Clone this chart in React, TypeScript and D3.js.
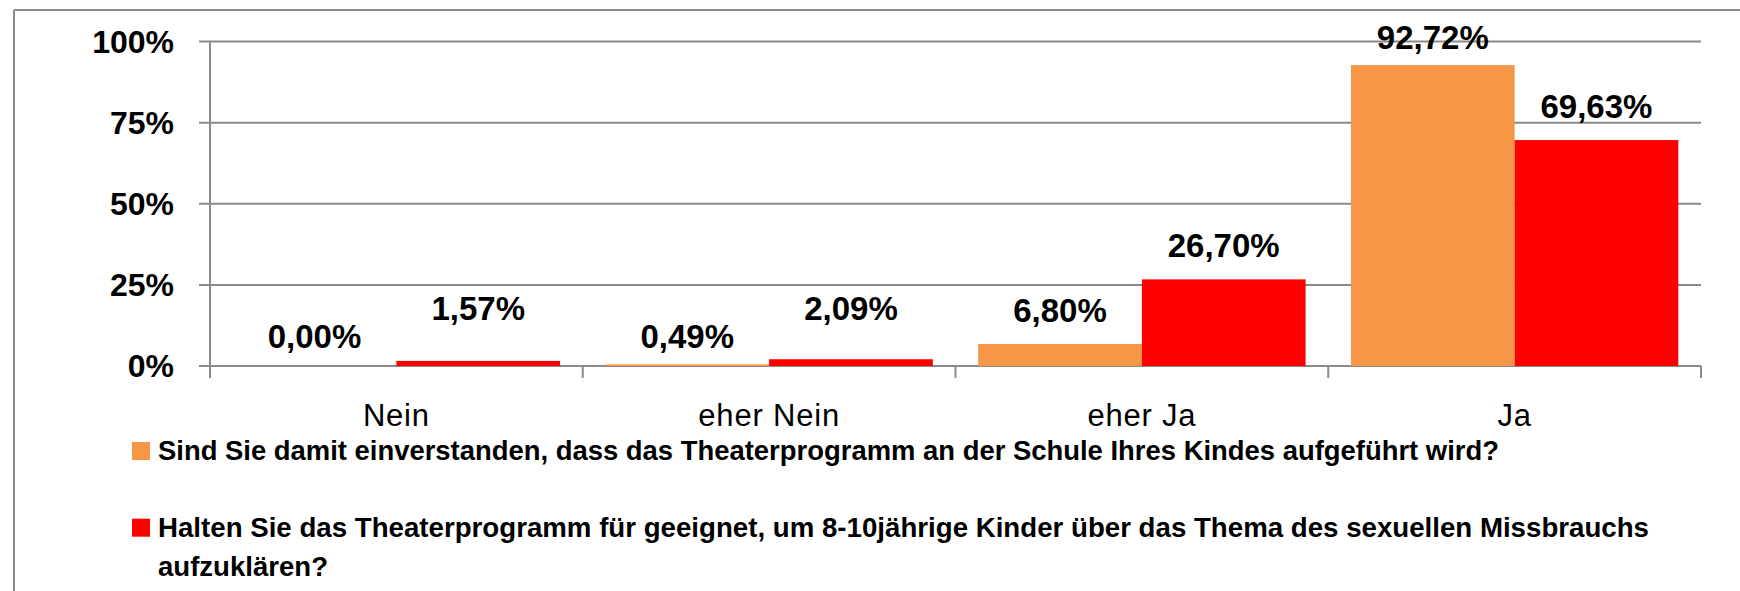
import React from 'react';
import * as d3 from 'd3';

// chart data
const categories = ['Nein', 'eher Nein', 'eher Ja', 'Ja'];
const seriesKeys = ['agree', 'suitable'];
const seriesLabels = [
  ['Sind Sie damit einverstanden, dass das Theaterprogramm an der Schule Ihres Kindes aufgeführt wird?'],
  ['Halten Sie das Theaterprogramm für geeignet, um 8-10jährige Kinder über das Thema des sexuellen Missbrauchs', 'aufzuklären?'],
];
const agreeValues = [0.0, 0.49, 6.8, 92.72];
const suitableValues = [1.57, 2.09, 26.7, 69.63];
const yTicks = [0, 25, 50, 75, 100];

const colors = ['#F79646', '#FF0000'];
const gridColor = '#8a8a8a';
const fontFamily = '"Liberation Sans", Arial, sans-serif';

const W = 1740;
const H = 591;
const plot = { left: 210, right: 1701, top: 41.5, bottom: 366 };

const fmt = (v: number) => v.toFixed(2).replace('.', ',') + '%';

export default function App() {
  const x0 = d3.scaleBand<string>().domain(categories).range([plot.left, plot.right]).padding(0);
  const x1 = d3.scaleBand<string>().domain(seriesKeys).range([0, x0.bandwidth()]).paddingInner(0).paddingOuter(0.1385);
  const y = d3.scaleLinear().domain([0, 100]).range([plot.bottom, plot.top]);

  const values = [agreeValues, suitableValues];

  // Excel-ish label placement: above the bar, kept inside the plot
  const labelY = (v: number, s: number) => {
    if (v < 3) return s === 0 ? y(0) - 18 : y(0) - 46;
    return Math.max(y(v) - 22, plot.top + 7.5);
  };

  const boundaries = categories.map(c => x0(c) as number).concat([plot.right]);

  // legend layout
  const legendLines = [
    { s: 0, lines: seriesLabels[0], y: 460, widths: [1341] },
    { s: 1, lines: seriesLabels[1], y: 536.7, widths: [1491, 170] },
  ];

  return (
    <svg width={W} height={H} style={{ position: 'absolute', left: 0, top: 0, background: '#fff' }} fontFamily={fontFamily}>
      {/* outer frame, cut off at right and bottom */}
      <line x1={14} x2={W} y1={10} y2={10} stroke={gridColor} strokeWidth={2} />
      <line x1={14} x2={14} y1={10} y2={H} stroke={gridColor} strokeWidth={2} />

      {/* gridlines + y labels */}
      {yTicks.map(t => (
        <g key={t}>
          <line x1={plot.left - 11} x2={plot.right} y1={y(t)} y2={y(t)} stroke={gridColor} strokeWidth={2} />
          <text x={174} y={y(t) + 11} textAnchor="end" fontSize={32} fontWeight="bold" fill="#000">
            {t}%
          </text>
        </g>
      ))}

      {/* y axis */}
      <line x1={plot.left} x2={plot.left} y1={plot.top} y2={plot.bottom + 12} stroke={gridColor} strokeWidth={2} />
      {boundaries.map((b, i) => (
        <line key={i} x1={b} x2={b} y1={plot.bottom} y2={plot.bottom + 12} stroke={gridColor} strokeWidth={2} />
      ))}

      {/* bars */}
      {categories.map((c, ci) => (
        <g key={c} transform={`translate(${x0(c)},0)`}>
          {seriesKeys.map((k, si) => {
            const v = values[si][ci];
            return (
              <rect
                key={k}
                x={x1(k)}
                y={y(v)}
                width={x1.bandwidth()}
                height={plot.bottom - y(v)}
                fill={colors[si]}
              />
            );
          })}
        </g>
      ))}

      {/* data labels */}
      {categories.map((c, ci) =>
        seriesKeys.map((k, si) => {
          const v = values[si][ci];
          const cx = (x0(c) as number) + (x1(k) as number) + x1.bandwidth() / 2;
          return (
            <text key={c + k} x={cx} y={labelY(v, si)} textAnchor="middle" fontSize={33} fontWeight="bold" fill="#000">
              {fmt(v)}
            </text>
          );
        })
      )}

      {/* category labels */}
      {categories.map(c => (
        <text
          key={c}
          x={(x0(c) as number) + x0.bandwidth() / 2}
          y={426}
          textAnchor="middle"
          fontSize={31}
          letterSpacing={0.8}
          fill="#000"
        >
          {c}
        </text>
      ))}

      {/* legend */}
      {legendLines.map(l => (
        <g key={l.s}>
          <rect x={132} y={l.y - 18} width={18} height={18} fill={colors[l.s]} />
          {l.lines.map((line, li) => (
            <text
              key={li}
              x={158}
              y={l.y + li * 39}
              fontSize={27}
              fontWeight="bold"
              fill="#000"
              textLength={l.widths[li]}
              lengthAdjust="spacingAndGlyphs"
            >
              {line}
            </text>
          ))}
        </g>
      ))}
    </svg>
  );
}
